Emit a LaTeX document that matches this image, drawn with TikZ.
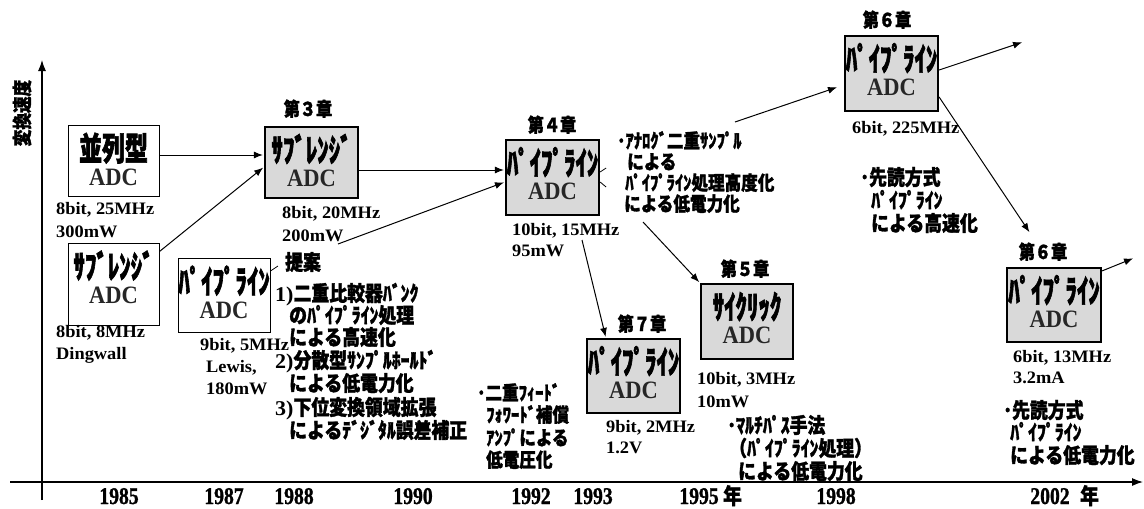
\documentclass[tikz,border=0pt]{standalone}
\usepackage{fontspec}
\usepackage{graphicx}
\setmainfont{Liberation Serif}
\newfontfamily\jp{Noto Sans CJK JP}[FakeStretch=0.85, FakeBold=1.5]
\newfontfamily\jpk{Noto Sans CJK JP}[FakeStretch=0.79, FakeBold=2]
\newfontfamily\dataf{Liberation Serif}[FakeStretch=1.05]
\newfontfamily\adcf{Liberation Serif}[FakeStretch=0.9]
\newfontfamily\yearf{Liberation Serif}[FakeStretch=0.82, FakeBold=1]
\usetikzlibrary{arrows.meta}
\tikzset{
 arr/.style={line width=1pt, -{Latex[length=9pt,width=7pt]}, shorten >=1pt},
 axarr/.style={line width=1.2pt, -{Latex[length=11pt,width=8pt]}},
 tickline/.style={line width=0.8pt},
 wbox/.style={draw, line width=1pt, fill=white, inner sep=0},
 gbox/.style={draw, line width=2.2pt, fill=black!15, inner sep=0},
 kana/.style={font=\jpk\bfseries\fontsize{29}{29}\selectfont, anchor=base, inner sep=0},
 adc/.style={font=\adcf\bfseries\fontsize{25}{25}\selectfont, anchor=base, inner sep=0, text=black!85},
 chap/.style={font=\jp\bfseries\fontsize{19}{19}\selectfont, anchor=base, inner sep=0},
 dt/.style={font=\dataf\bfseries\fontsize{17.5}{17.5}\selectfont, anchor=base west, inner sep=0},
 jt/.style={font=\jp\bfseries\fontsize{21}{21}\selectfont, anchor=base west, inner sep=0},
 jts/.style={font=\jp\bfseries\fontsize{19.5}{19.5}\selectfont, anchor=base west, inner sep=0},
 yr/.style={font=\yearf\bfseries\fontsize{24}{24}\selectfont, anchor=base, inner sep=0},
 nen/.style={font=\jp\bfseries\fontsize{22}{22}\selectfont, anchor=base west, inner sep=0},
}
\newcommand\adcbox[7]{%
  \node[#2, minimum width=#5pt, minimum height=#6pt] (#1) at (#3,#4) {};
  \node[kana] (#1k) at ([yshift=-36pt]#1.north) {\scalebox{1}[1.12]{#7}};
  \node[adc] (#1a) at ([yshift=-61pt]#1.north) {ADC};
}
\begin{document}
\begin{tikzpicture}[x=1pt,y=-1pt]
\fill[white] (0,0) rectangle (1144,509);
\useasboundingbox (0,0) rectangle (1144,509);

% axes
\coordinate (ybot) at (42,500);
\coordinate (ytop) at (42,60);
\coordinate (xl) at (10,482);
\coordinate (xr) at (1143,482);
\draw[axarr] (ybot) -- (ytop);
\draw[axarr] (xl) -- (xr);
\node[font=\jp\bfseries\fontsize{19.5}{19.5}\selectfont, rotate=90, inner sep=0] (ylab) at (22,113) {変換速度};

% years
\node[yr] (y85) at (119,504) {1985};
\node[yr] (y87) at (224,504) {1987};
\node[yr] (y88) at (294,504) {1988};
\node[yr] (y90) at (413,504) {1990};
\node[yr] (y92) at (531,504) {1992};
\node[yr] (y93) at (593,504) {1993};
\node[yr] (y95) at (699,504) {1995};
\node[nen] (n95) at (723,504) {年};
\node[yr] (y98) at (836,504) {1998};
\node[yr] (y02) at (1050,504) {2002};
\node[nen] (n02) at (1080,504) {年};

% boxes
\adcbox{b1}{wbox}{113.5}{160.5}{91}{71}{並列型}
\adcbox{b2}{wbox}{113.5}{284}{91}{82}{ｻﾌﾞﾚﾝｼﾞ}
\adcbox{b3}{gbox}{311.5}{162.5}{93}{71}{ｻﾌﾞﾚﾝｼﾞ}
\adcbox{b4}{wbox}{224}{295}{92}{74}{ﾊﾟｲﾌﾟﾗｲﾝ}
\adcbox{b5}{gbox}{552.5}{177.5}{93}{75}{ﾊﾟｲﾌﾟﾗｲﾝ}
\adcbox{b6}{gbox}{633.5}{376}{93}{74}{ﾊﾟｲﾌﾟﾗｲﾝ}
\adcbox{b7}{gbox}{747}{321.5}{92}{75}{ｻｲｸﾘｯｸ}
\adcbox{b8}{gbox}{891.5}{73.5}{93}{75}{ﾊﾟｲﾌﾟﾗｲﾝ}
\adcbox{b9}{gbox}{1054}{305}{94}{74}{ﾊﾟｲﾌﾟﾗｲﾝ}

% chapter labels
\node[chap] (ch3) at (308,116) {第３章};
\node[chap] (ch4) at (552,132) {第４章};
\node[chap] (ch7) at (642,331) {第７章};
\node[chap] (ch5) at (745,276) {第５章};
\node[chap] (ch6a) at (887,27) {第６章};
\node[chap] (ch6b) at (1043,259) {第６章};

% data labels
\node[dt] (d1a) at (56,214) {8bit, 25MHz};
\node[dt] (d1b) at (56,237) {300mW};
\node[dt] (d2a) at (56,337) {8bit, 8MHz};
\node[dt] (d2b) at (56,359) {Dingwall};
\node[dt] (d3a) at (282,218) {8bit, 20MHz};
\node[dt] (d3b) at (282,241) {200mW};
\node[dt] (d4a) at (200,350) {9bit, 5MHz};
\node[dt] (d4b) at (206,372) {Lewis,};
\node[dt] (d4c) at (206,394) {180mW};
\node[dt] (d5a) at (512,235) {10bit, 15MHz};
\node[dt] (d5b) at (512,256) {95mW};
\node[dt] (d6a) at (606,432) {9bit, 2MHz};
\node[dt] (d6b) at (606,453) {1.2V};
\node[dt] (d7a) at (697,384) {10bit, 3MHz};
\node[dt] (d7b) at (697,407) {10mW};
\node[dt] (d8a) at (852,133) {6bit, 225MHz};
\node[dt] (d9a) at (1013,362) {6bit, 13MHz};
\node[dt] (d9b) at (1013,383) {3.2mA};

% proposal block
\node[jt] (t0) at (285,270) {提案};
\node[jt] (t1) at (275,301) {{\dataf 1)}二重比較器ﾊﾞﾝｸ};
\node[jt] (t2) at (289,323) {のﾊﾟｲﾌﾟﾗｲﾝ処理};
\node[jt] (t3) at (289,345) {による高速化};
\node[jt] (t4) at (275,368) {{\dataf 2)}分散型ｻﾝﾌﾟﾙﾎｰﾙﾄﾞ};
\node[jt] (t5) at (289,391) {による低電力化};
\node[jt] (t6) at (275,415) {{\dataf 3)}下位変換領域拡張};
\node[jt] (t7) at (289,438) {によるﾃﾞｼﾞﾀﾙ誤差補正};

% feed-forward block
\node[jts] (f1) at (477,400) {･二重ﾌｨｰﾄﾞ};
\node[jts] (f2) at (486,422) {ﾌｫﾜｰﾄﾞ補償};
\node[jts] (f3) at (486,445) {ｱﾝﾌﾟによる};
\node[jts] (f4) at (486,467) {低電圧化};

% analog block
\node[jts] (g1) at (617,148) {･ｱﾅﾛｸﾞ二重ｻﾝﾌﾟﾙ};
\node[jts] (g2) at (627,169) {による};
\node[jts] (g3) at (625,190) {ﾊﾟｲﾌﾟﾗｲﾝ処理高度化};
\node[jts] (g4) at (624,211) {による低電力化};

% multipath block
\node[jt] (m1) at (727,433) {･ﾏﾙﾁﾊﾟｽ手法};
\node[jt] (m2) at (729,456) {（ﾊﾟｲﾌﾟﾗｲﾝ処理）};
\node[jt] (m3) at (738,479) {による低電力化};

% look-ahead blocks
\node[jt] (p1) at (860,185) {･先読方式};
\node[jt] (p2) at (871,208) {ﾊﾟｲﾌﾟﾗｲﾝ};
\node[jt] (p3) at (871,231) {による高速化};
\node[jt] (q1) at (1003,418) {･先読方式};
\node[jt] (q2) at (1010,440) {ﾊﾟｲﾌﾟﾗｲﾝ};
\node[jt] (q3) at (1010,463) {による低電力化};

% connectors
\draw[arr] ([yshift=5.5pt]b1.east) -- ([yshift=5.5pt]b1.east -| b3.west);
\draw[arr] ([yshift=-9pt]b2.north east) -- ([yshift=-4.5pt]b3.west);
\draw[arr] ([yshift=-7.5pt]b3.east) -- ([yshift=-7.5pt]b3.east -| b5.west);
\coordinate (c200) at (338,244);
\draw[arr] (c200) -- ([yshift=-4.5pt]b5.west);
\coordinate (cteian) at (278,266);
\draw[tickline] ([yshift=24pt]b4.east) -- (cteian);
\draw[tickline] ([yshift=5.5pt]b5.east) -- ++(6,-4);
\draw[tickline] ([yshift=-4.5pt]b5.east) -- ++(6,5);
\coordinate (c15) at (582,240);
\draw[arr] (c15) -- ([xshift=20pt]b6.north west);
\coordinate (c4a) at (643,222);
\draw[arr] (c4a) -- (b7.north west);
\coordinate (c4b) at (735,122);
\draw[arr] (c4b) -- ([xshift=-6pt,yshift=-13.5pt]b8.west);
\coordinate (e1) at (1023,42);
\draw[arr] ([yshift=3.5pt]b8.east) -- (e1);
\coordinate (e2) at (1030,233);
\draw[arr] ([yshift=-23.5pt]b8.east) -- (e2);
\coordinate (e3) at (1134,258);
\draw[arr] ([yshift=-4pt]b9.north east) -- (e3);
\end{tikzpicture}
\end{document}
